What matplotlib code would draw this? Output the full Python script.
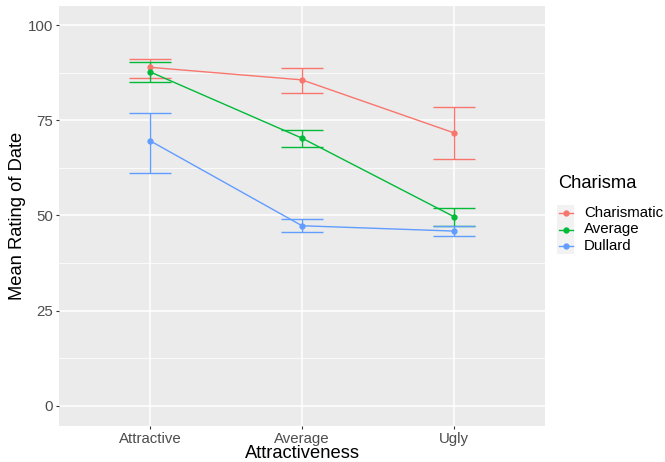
import numpy as np
import matplotlib.pyplot as plt
from matplotlib.lines import Line2D
from matplotlib.patches import Rectangle

plt.rcParams['font.family'] = ['Liberation Sans', 'DejaVu Sans']

looks = ['Attractive', 'Average', 'Ugly']
groups = ['Charismatic', 'Average', 'Dullard']
colors = ['#F8766D', '#00BA38', '#619CFF']

means = {
    'Charismatic': [88.9, 85.6, 71.7],
    'Average': [87.7, 70.3, 49.7],
    'Dullard': [69.6, 47.3, 45.9],
}
upper = {
    'Charismatic': [91.2, 88.8, 78.4],
    'Average': [90.3, 72.4, 52.0],
    'Dullard': [76.9, 49.0, 47.2],
}
lower = {
    'Charismatic': [86.2, 82.2, 64.9],
    'Average': [85.0, 68.1, 47.3],
    'Dullard': [61.2, 45.7, 44.5],
}

W, H = 665, 462
fig = plt.figure(figsize=(W / 100, H / 100), dpi=100)
ax = fig.add_axes([59 / W, (H - 425.7) / H, 486 / W, 419.7 / H])
ax.set_facecolor('#EBEBEB')
for s in ax.spines.values():
    s.set_visible(False)

x = np.arange(1, 4)
for g, c in zip(groups, colors):
    m = np.array(means[g])
    lo = np.array(lower[g])
    hi = np.array(upper[g])
    ax.errorbar(x, m, yerr=[m - lo, hi - m], fmt='none', ecolor=c,
                elinewidth=1, capsize=15, capthick=1, zorder=3)
    ax.plot(x, m, color=c, lw=1, marker='o', ms=3.5, zorder=4)

ax.set_xlim(0.4, 3.6)
ax.set_ylim(-5.2, 105)
ax.set_xticks(x)
ax.set_xticklabels(looks)
ax.set_yticks([0, 25, 50, 75, 100])
ax.set_yticks([12.5, 37.5, 62.5, 87.5], minor=True)
ax.grid(which='major', color='white', lw=1.1)
ax.grid(which='minor', axis='y', color='white', lw=0.55)
ax.set_axisbelow(True)
ax.tick_params(which='major', length=2.5, width=0.8, color='#333333',
               labelsize=10.8, labelcolor='#4D4D4D', pad=2)
ax.tick_params(which='minor', length=0)
ax.set_xlabel('Attractiveness', fontsize=13.2, va='center')
ax.set_ylabel('Mean Rating of Date', fontsize=13.2, va='center')
ax.xaxis.set_label_coords(0.5, (425.7 - 453.5) / 419.7)
ax.yaxis.set_label_coords((18 - 59) / 486, 0.5)

# legend drawn in figure pixels
fig.text(558 / W, 1 - 183 / H, 'Charisma', fontsize=13.2,
         ha='left', va='center')
for i, (g, c) in enumerate(zip(groups, colors)):
    yc = 213 + i * 16.5
    fig.add_artist(Rectangle((557 / W, 1 - (yc + 8.25) / H), 17 / W, 16.5 / H,
                             transform=fig.transFigure, facecolor='#F2F2F2',
                             edgecolor='none'))
    fig.add_artist(Line2D([559 / W, 573 / W], [1 - yc / H] * 2, color=c, lw=1,
                          transform=fig.transFigure))
    fig.add_artist(Line2D([566 / W], [1 - yc / H], color=c, marker='o', ms=3.5,
                          transform=fig.transFigure))
    fig.text(584 / W, 1 - yc / H, g, fontsize=10.8, ha='left', va='center')

fig.savefig('out.png', dpi=100)
